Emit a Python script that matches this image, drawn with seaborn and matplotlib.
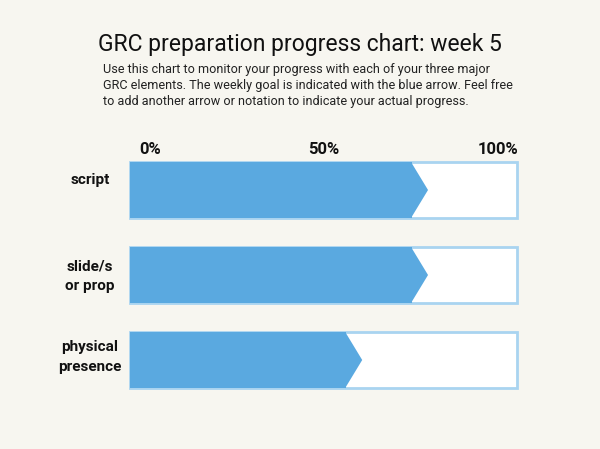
import matplotlib.pyplot as plt
import seaborn as sns
import pandas as pd

# Chart data
elements = ["script", "slide/s\nor prop", "physical\npresence"]
goal_pct = [77, 77, 60]        # tip of the blue arrow, percent
tick_labels = ["0%", "50%", "100%"]

tip_len = 4.4                   # arrow point length in percent units

sns.set_style("white")
plt.rcParams['font.family'] = ['Roboto', 'DejaVu Sans']

fig = plt.figure(figsize=(6, 4.49), dpi=100)
fig.patch.set_facecolor("#f7f6f0")
ax = fig.add_axes([128 / 600, 1 - 402.5 / 449, 391 / 600, 255 / 449])
ax.set_facecolor("none")

df = pd.DataFrame({"element": elements, "full": [100] * 3,
                   "body": [g - tip_len + 0.3 for g in goal_pct]})

# white track with light blue border
sns.barplot(data=df, x="full", y="element", color="white", width=0.66,
            edgecolor="#a9d4f0", linewidth=2, ax=ax)
# blue arrow body
sns.barplot(data=df, x="body", y="element", color="#5aa9e0", width=0.66,
            edgecolor="none", saturation=1, ax=ax)
# arrow tips
for i, g in enumerate(goal_pct):
    b = g - tip_len
    ax.fill([b, g, b], [i - 0.33, i, i + 0.33], color="#5aa9e0", lw=0)

ax.set_xlim(-0.5, 100.5)
ax.set_ylim(2.5, -0.5)
ax.set_xlabel("")
ax.set_ylabel("")
ax.set_xticks([])
ax.set_yticks([])
sns.despine(ax=ax, left=True, bottom=True)

# top percent labels
for lab, xp in zip(tick_labels, [150, 324, 498]):
    fig.text(xp / 600, 1 - 150 / 449, lab, ha="center", va="center",
             fontsize=12, fontweight="bold", color="#111111")

# row labels
for lab, yp in zip(elements, [180, 276, 357]):
    fig.text(90 / 600, 1 - yp / 449, lab, ha="center", va="center",
             fontsize=11, fontweight="bold", color="#111111", linespacing=1.5)

fig.text(0.5, 1 - 45 / 449, "GRC preparation progress chart: week 5",
         ha="center", va="center", fontsize=16.5, color="#111111")
fig.text(103 / 600, 1 - 63 / 449,
         "Use this chart to monitor your progress with each of your three major\n"
         "GRC elements. The weekly goal is indicated with the blue arrow. Feel free\n"
         "to add another arrow or notation to indicate your actual progress.",
         ha="left", va="top", fontsize=9.1, color="#222222", linespacing=1.3)

fig.savefig("out.png", dpi=100, facecolor=fig.get_facecolor())
